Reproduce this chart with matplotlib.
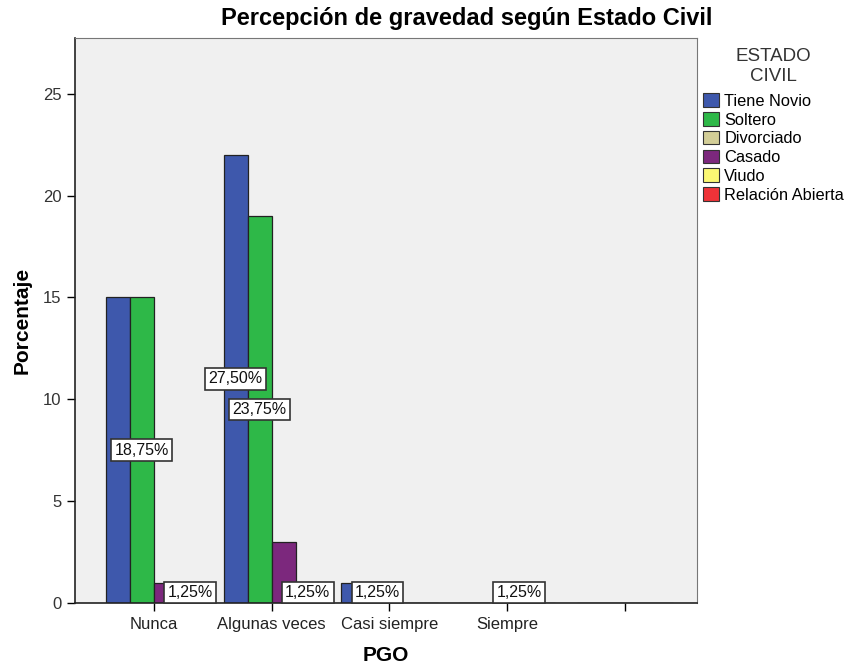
import matplotlib
matplotlib.use('Agg')
import matplotlib.pyplot as plt
import numpy as np
from matplotlib.patches import Patch

plt.rcParams['font.family'] = ['Liberation Sans', 'DejaVu Sans']

# datos del grafico (recuentos por categoria de PGO)
categorias = ['Nunca', 'Algunas veces', 'Casi siempre', 'Siempre', '']
tiene_novio = [15, 22, 1, 0, 0]
soltero = [15, 19, 1, 0, 0]
casado = [1, 3, 0, 1, 0]
relacion_abierta = [1, 1, 0, 0, 0]

leyenda = ['Tiene Novio', 'Soltero', 'Divorciado', 'Casado', 'Viudo', 'Relación Abierta']
colores = ['#3E58AC', '#2EB848', '#D3CE97', '#7C287D', '#FBF873', '#EF3338']

# etiquetas que se ven (serie, categoria)
etiquetas_visibles = [(1, 0), (3, 0), (0, 1), (1, 1), (3, 1), (1, 2), (2, 3)]

series = [tiene_novio, soltero, casado, relacion_abierta]
col_series = [colores[0], colores[1], colores[3], colores[5]]
total = sum(sum(s) for s in series)

fig = plt.figure(figsize=(8.51, 6.64), dpi=100)
ax = fig.add_axes([0.088, 0.092, 0.731, 0.851])
ax.set_facecolor('#F0F0F0')

x = np.arange(len(categorias))
w = 0.204
offsets = [-1.5 * w, -0.5 * w, 0.5 * w, 1.5 * w]
for s, col, off in zip(series, col_series, offsets):
    ax.bar(x + off, s, w, color=col, edgecolor='#222222', linewidth=0.9, zorder=2)

for si, ci in etiquetas_visibles:
    v = series[si][ci]
    txt = ('%.2f%%' % (v / total * 100)).replace('.', ',')
    ax.text(x[ci] + offsets[si], v / 2, txt, ha='center', va='center', fontsize=11.5,
            color='#111111', zorder=5,
            bbox=dict(boxstyle='square,pad=0.2', facecolor='white', edgecolor='#333333', linewidth=1.2))

ax.set_xlim(-0.67, 4.61)
ax.set_ylim(0, 27.75)
ax.set_xticks(x)
ax.set_xticklabels(categorias, fontsize=12, color='#222222')
ax.set_yticks([0, 5, 10, 15, 20, 25])
ax.tick_params(axis='y', labelsize=12, labelcolor='#333333', length=6, width=1)
ax.tick_params(axis='x', length=6, width=1, pad=4)
for sp in ['top', 'right']:
    ax.spines[sp].set_color('#777777')
for sp in ['left', 'bottom']:
    ax.spines[sp].set_color('#222222')
    ax.spines[sp].set_linewidth(1.2)

ax.set_ylabel('Porcentaje', fontsize=15, fontweight='bold', labelpad=8)
ax.set_xlabel('PGO', fontsize=15, fontweight='bold', labelpad=10)
fig.text(0.548, 0.972, 'Percepción de gravedad según Estado Civil', ha='center', va='center',
         fontsize=17, fontweight='bold')

handles = [Patch(facecolor=c, edgecolor='#333333', linewidth=0.8) for c in colores]
leg = fig.legend(handles, leyenda, title='ESTADO\nCIVIL', loc='upper left',
                 bbox_to_anchor=(0.826, 0.927), frameon=False, fontsize=11.8,
                 title_fontsize=13.5, handlelength=1.0, handleheight=0.9,
                 handletextpad=0.3, labelspacing=0.2, borderaxespad=0,
                 borderpad=0)
leg.get_title().set_multialignment('center')
leg.get_title().set_color('#333333')
leg._legend_box.sep = 6

fig.savefig('out.png', dpi=100)
